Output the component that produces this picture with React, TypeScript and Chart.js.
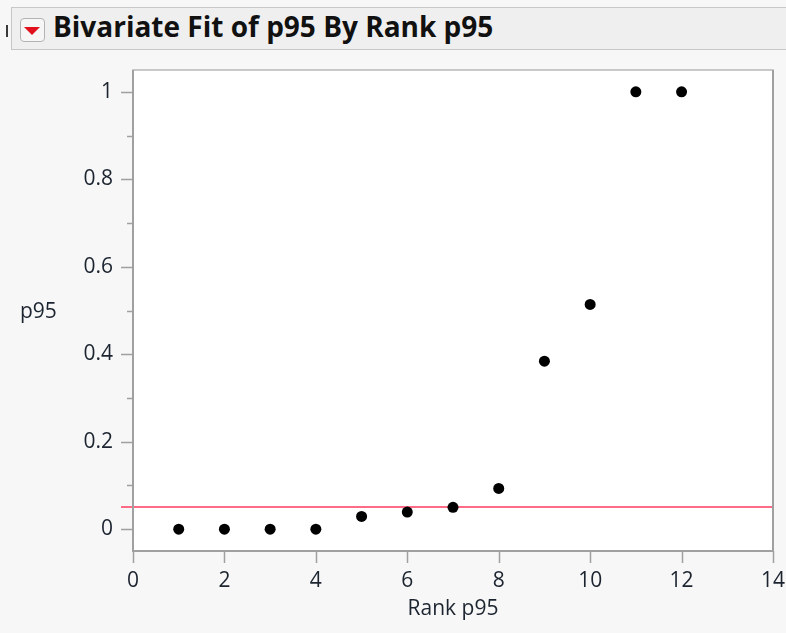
import React, { useEffect, useRef } from "react";
import { Chart, registerables } from "chart.js";

Chart.register(...registerables);

// ---- data ----
const rankValues = [1, 2, 3, 4, 5, 6, 7, 8, 9, 10, 11, 12];
const p95Values = [0, 0, 0, 0, 0.029, 0.039, 0.05, 0.093, 0.384, 0.514, 1, 1];
const referenceLevel = 0.05;
const xTickValues = [0, 2, 4, 6, 8, 10, 12, 14];
const yTickValues = [0, 0.1, 0.2, 0.3, 0.4, 0.5, 0.6, 0.7, 0.8, 0.9, 1];
const yLabelValues = [0, 0.2, 0.4, 0.6, 0.8, 1];
const titleText = "Bivariate Fit of p95 By Rank p95";
const xAxisTitle = "Rank p95";
const yAxisTitle = "p95";

const AXIS_FONT = "'Open Sans', 'Noto Sans', sans-serif";
const TEXT_COLOR = "#1c2430";

const decorPlugin = {
  id: "jmpDecor",
  beforeDraw(chart: any) {
    const { ctx, chartArea } = chart;
    ctx.save();
    ctx.fillStyle = "#ffffff";
    ctx.fillRect(chartArea.left, chartArea.top, chartArea.right - chartArea.left, chartArea.bottom - chartArea.top);
    ctx.restore();
  },
  beforeDatasetsDraw(chart: any) {
    const { ctx, chartArea, scales } = chart;
    const y = Math.round(scales.y.getPixelForValue(referenceLevel));
    ctx.save();
    ctx.strokeStyle = "#ff6a86";
    ctx.lineWidth = 2;
    ctx.beginPath();
    ctx.moveTo(chartArea.left - 12, y);
    ctx.lineTo(chartArea.right, y);
    ctx.stroke();
    ctx.restore();
  },
  afterDraw(chart: any) {
    const { ctx, chartArea, scales } = chart;
    const { left, right, top, bottom } = chartArea;
    ctx.save();
    // frame
    ctx.strokeStyle = "#b8b8b8";
    ctx.lineWidth = 1.5;
    ctx.strokeRect(left, top, right - left, bottom - top);
    ctx.strokeStyle = "#a0a0a0";
    ctx.lineWidth = 2;
    ctx.beginPath();
    ctx.moveTo(left, top);
    ctx.lineTo(left, bottom);
    ctx.lineTo(right, bottom);
    ctx.moveTo(right, top);
    ctx.lineTo(right, bottom);
    ctx.stroke();
    // ticks
    ctx.lineWidth = 1.5;
    ctx.beginPath();
    yTickValues.forEach((v) => {
      const py = Math.round(scales.y.getPixelForValue(v)) + 0.5;
      const len = yLabelValues.includes(v) ? 12 : 6;
      ctx.moveTo(left - len, py);
      ctx.lineTo(left, py);
    });
    xTickValues.forEach((v) => {
      const px = Math.round(scales.x.getPixelForValue(v)) + 0.5;
      ctx.moveTo(px, bottom);
      ctx.lineTo(px, bottom + 12);
    });
    ctx.stroke();
    // y title (horizontal)
    ctx.fillStyle = TEXT_COLOR;
    ctx.font = `21px ${AXIS_FONT}`;
    ctx.textAlign = "left";
    ctx.textBaseline = "alphabetic";
    ctx.fillText(yAxisTitle, 20, 318);
    ctx.restore();
  },
};

export default function App() {
  const canvasRef = useRef<HTMLCanvasElement | null>(null);

  useEffect(() => {
    const canvas = canvasRef.current;
    if (!canvas) return;
    const chart = new Chart(canvas, {
      type: "scatter",
      data: {
        datasets: [
          {
            data: rankValues.map((x, i) => ({ x, y: p95Values[i] })),
            backgroundColor: "#000000",
            borderWidth: 0,
            pointRadius: 5.5,
            pointHoverRadius: 5.5,
          },
        ],
      },
      options: {
        animation: false,
        responsive: false,
        events: [],
        layout: { padding: { top: 70, right: 13, left: 0, bottom: 0 } },
        plugins: {
          legend: { display: false },
          tooltip: { enabled: false },
        },
        scales: {
          x: {
            type: "linear",
            min: 0,
            max: 14,
            afterBuildTicks: (s: any) => {
              s.ticks = xTickValues.map((v) => ({ value: v }));
            },
            afterFit: (s: any) => {
              s.height = 82;
              s.paddingLeft = 0;
              s.paddingRight = 0;
            },
            grid: { drawOnChartArea: false, drawTicks: true, tickLength: 12, color: "rgba(0,0,0,0)" },
            border: { display: false },
            ticks: {
              padding: 5,
              color: TEXT_COLOR,
              font: { family: AXIS_FONT, size: 21 },
              maxRotation: 0,
              callback: (v: any) => String(v),
            },
            title: {
              display: true,
              text: xAxisTitle,
              color: TEXT_COLOR,
              font: { family: AXIS_FONT, size: 21 },
              padding: { top: 0, bottom: 11 },
            },
          },
          y: {
            type: "linear",
            min: -0.05,
            max: 1.05,
            afterBuildTicks: (s: any) => {
              s.ticks = yTickValues.map((v) => ({ value: v }));
            },
            afterFit: (s: any) => {
              s.width = 133;
              s.paddingTop = 0;
              s.paddingBottom = 0;
            },
            grid: { drawOnChartArea: false, drawTicks: true, tickLength: 12, color: "rgba(0,0,0,0)" },
            border: { display: false },
            ticks: {
              padding: 8,
              color: TEXT_COLOR,
              font: { family: AXIS_FONT, size: 21 },
              callback: (v: any) => {
                const r = Math.round(Number(v) * 10) / 10;
                return yLabelValues.some((l) => Math.abs(l - r) < 1e-9) ? String(r) : "";
              },
            },
          },
        },
      },
      plugins: [decorPlugin],
    } as any);
    return () => chart.destroy();
  }, []);

  return (
    <div
      style={{
        position: "absolute",
        left: 0,
        top: 0,
        width: 786,
        height: 633,
        overflow: "hidden",
        background: "#f7f7f7",
      }}
    >
      <canvas ref={canvasRef} width={786} height={633} style={{ position: "absolute", left: 0, top: 0, display: "block" }} />
      <div style={{ position: "absolute", left: 6, top: 25, width: 2, height: 12, background: "#3a3a3a" }} />
      <div
        style={{
          position: "absolute",
          left: 11,
          top: 7,
          width: 790,
          height: 43,
          background: "#efefef",
          border: "1px solid #c8c8c8",
          boxSizing: "border-box",
        }}
      />
      <div
        style={{
          position: "absolute",
          left: 20,
          top: 18,
          width: 25,
          height: 24,
          boxSizing: "border-box",
          border: "1px solid #b4b4b4",
          borderRadius: 4,
          background: "#f6f6f6",
        }}
      >
        <div
          style={{
            position: "absolute",
            left: 3,
            top: 8,
            width: 0,
            height: 0,
            borderLeft: "8px solid transparent",
            borderRight: "8px solid transparent",
            borderTop: "8px solid #e0101c",
          }}
        />
      </div>
      <div
        style={{
          position: "absolute",
          left: 53,
          top: 12,
          fontFamily: "'Open Sans', 'Noto Sans', sans-serif",
          fontWeight: 700,
          fontSize: 28,
          lineHeight: "28px",
          color: "#111111",
          whiteSpace: "nowrap",
        }}
      >
        {titleText}
      </div>
    </div>
  );
}
